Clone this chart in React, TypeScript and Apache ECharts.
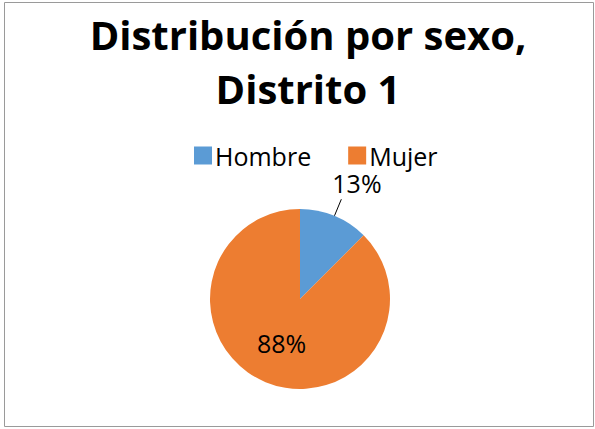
import React, { useEffect, useRef } from "react";
import * as echarts from "echarts";

const titleText = "Distribución por sexo,\nDistrito 1";
const categories = ["Hombre", "Mujer"];
const values = [1, 7];
const colors = ["#5B9BD5", "#ED7D31"];

export default function App() {
  const ref = useRef<HTMLDivElement>(null);
  useEffect(() => {
    document.body.style.margin = "0";
    const chart = echarts.init(ref.current!, null, { renderer: "svg" });
    const total = values.reduce((a, b) => a + b, 0);
    const font = "'Open Sans', 'Noto Sans', sans-serif";
    chart.setOption({
      animation: false,
      backgroundColor: "#ffffff",
      title: {
        text: titleText,
        left: 303,
        top: 2,
        textAlign: "center",
        textStyle: {
          fontFamily: font,
          fontWeight: "bold",
          fontSize: 40,
          lineHeight: 54,
          color: "#000",
        },
      },
      legend: {
        left: 189,
        top: 138,
        itemWidth: 18,
        itemHeight: 18,
        itemGap: 37,
        icon: "rect",
        textStyle: { fontFamily: font, fontSize: 25, color: "#000", padding: [0, 0, 0, -2] },
        data: categories,
      },
      graphic: [
        {
          type: "rect",
          shape: { x: 4.5, y: 2.5, width: 589, height: 424 },
          style: { fill: "none", stroke: "#9a9a9a", lineWidth: 1 },
          silent: true,
        },
      ],
      series: [
        {
          type: "pie",
          center: [300, 299],
          radius: 90,
          startAngle: 90,
          clockwise: true,
          avoidLabelOverlap: false,
          data: categories.map((c, i) => ({
            name: c,
            value: values[i],
            itemStyle: { color: colors[i] },
            label:
              i === 0
                ? { show: true, position: "outside" }
                : { show: true, position: "inside" },
            labelLine: i === 0 ? { show: true, length: 18, length2: 0 } : { show: false },
          })),
          label: {
            formatter: (p: any) => Math.round((p.value / total) * 100) + "%",
            fontFamily: font,
            fontSize: 25,
            color: "#000",
          },
          labelLine: { lineStyle: { color: "#000", width: 1 } },
          labelLayout: (p: any) => (p.dataIndex === 0 ? { dx: -14, dy: -16 } : {}),
        },
      ],
    });
    return () => chart.dispose();
  }, []);
  return <div ref={ref} style={{ width: 595, height: 429 }} />;
}
